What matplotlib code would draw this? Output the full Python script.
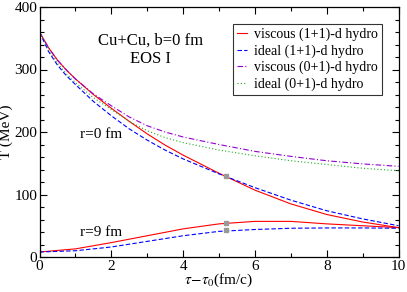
import matplotlib
matplotlib.use("Agg")
import matplotlib.pyplot as plt
from matplotlib.ticker import MultipleLocator

plt.rcParams['font.family'] = ['Liberation Serif', 'DejaVu Serif']
plt.rcParams['mathtext.fontset'] = 'stix'

# r = 0 fm curves
t0 = [0, 0.25, 0.5, 0.75, 1, 1.5, 2, 2.5, 3, 3.5, 4, 5, 6, 7, 8, 9, 10]
visc_11_r0 = [360, 335, 315, 299, 285, 260, 238, 217, 197, 179, 163, 134, 107, 85, 68, 56, 47]
ideal_11_r0 = [360, 329, 307, 290, 276, 249, 226, 205, 187, 171, 157, 133, 111, 91, 74, 61, 50]
visc_01 = [360, 335, 315, 299, 285, 261, 242, 224, 210, 200, 192, 180, 169, 161, 154, 149, 145]
ideal_01 = [360, 331, 310, 293, 279, 255, 236, 217, 202, 191, 183, 171, 162, 154, 148, 142, 138]

# r = 9 fm curves
t9 = [0, 1, 2, 3, 4, 5, 6, 7, 8, 9, 10]
visc_11_r9 = [8, 13, 23, 34, 45, 53, 57, 57, 53, 50, 47]
ideal_11_r9 = [8, 10, 16, 25, 34, 41, 44, 46, 46.5, 46.5, 46]

# marked points
mark_t = [5.2, 5.2, 5.2]
mark_T = [129, 55, 43]

labels = ["viscous (1+1)-d hydro", "ideal (1+1)-d hydro",
          "viscous (0+1)-d hydro", "ideal (0+1)-d hydro"]

fig = plt.figure(figsize=(4.07, 2.92), dpi=100)
ax = fig.add_axes([39.5/407, 35/292, 359/407, 250/292])

red = '#ff0000'
blue = '#0000ff'
violet = '#9400d3'
green = '#22aa22'
lw = 0.8

ax.plot(t0, visc_11_r0, color=red, lw=lw, label=labels[0])
ax.plot(t0, ideal_11_r0, color=blue, lw=lw, ls=(0, (4, 2)), label=labels[1])
ax.plot(t0, visc_01, color=violet, lw=lw, ls=(0, (5, 2, 1, 2)), label=labels[2])
ax.plot(t0, ideal_01, color=green, lw=lw, ls=(0, (1, 2)), label=labels[3])
ax.plot(t9, visc_11_r9, color=red, lw=lw)
ax.plot(t9, ideal_11_r9, color=blue, lw=lw, ls=(0, (4, 2)))
ax.plot(mark_t, mark_T, ls='none', marker='s', ms=2.2, color='#999999')

ax.set_xlim(0, 10)
ax.set_ylim(0, 400)
ax.xaxis.set_major_locator(MultipleLocator(2))
ax.xaxis.set_minor_locator(MultipleLocator(1))
ax.yaxis.set_major_locator(MultipleLocator(100))
ax.yaxis.set_minor_locator(MultipleLocator(20))
ax.tick_params(which='both', direction='in', top=True, right=True, labelsize=11, width=0.8, pad=1.5)
ax.tick_params(axis='x', which='both', pad=2.5)
ax.tick_params(which='major', length=5)
ax.tick_params(which='minor', length=3)
for s in ax.spines.values():
    s.set_linewidth(0.9)

ax.set_xlabel(r'$\tau\!-\!\tau_0$(fm/c)', fontsize=11, labelpad=-1)
ax.set_ylabel('T (MeV)', fontsize=11, labelpad=1)

ax.text(3.1, 346, 'Cu+Cu, b=0 fm', ha='center', va='center', fontsize=12)
ax.text(3.1, 317, 'EOS I', ha='center', va='center', fontsize=12)
ax.text(1.12, 196, 'r=0 fm', ha='left', va='center', fontsize=11)
ax.text(1.12, 40, 'r=9 fm', ha='left', va='center', fontsize=11)

leg = ax.legend(loc='upper right', fontsize=10, frameon=True, fancybox=False,
                edgecolor='black', handlelength=0.7, handletextpad=0.5,
                labelspacing=0.22, borderpad=0.3, borderaxespad=1.2)
leg.get_frame().set_linewidth(0.8)

fig.savefig('out.png', dpi=100)
